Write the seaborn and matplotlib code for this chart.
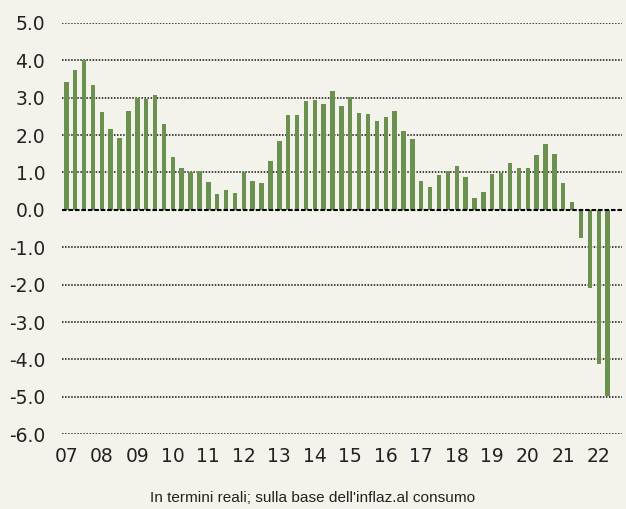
import matplotlib
matplotlib.use('Agg')
import matplotlib.pyplot as plt
import seaborn as sns
import pandas as pd

sns.set_style('white')
plt.rcParams['font.family'] = ['DejaVu Sans']

# ------------------------------------------------------------
# dati trimestrali 2007T1 - 2022T2
# ------------------------------------------------------------
years = ['07', '08', '09', '10', '11', '12', '13', '14',
         '15', '16', '17', '18', '19', '20', '21', '22']
values = [3.41, 3.75, 4.00, 3.35, 2.62, 2.17, 1.91, 2.65,
          2.98, 2.96, 3.07, 2.29, 1.41, 1.13, 1.02, 1.03,
          0.75, 0.43, 0.53, 0.44, 1.01, 0.78, 0.73, 1.30,
          1.83, 2.54, 2.55, 2.90, 2.94, 2.83, 3.17, 2.77,
          3.02, 2.60, 2.56, 2.38, 2.48, 2.64, 2.11, 1.90,
          0.77, 0.62, 0.93, 1.03, 1.17, 0.89, 0.33, 0.47,
          0.95, 0.98, 1.25, 1.13, 1.11, 1.46, 1.76, 1.49,
          0.73, 0.21, -0.76, -2.10, -4.13, -4.99]
yticks = [5, 4, 3, 2, 1, 0, -1, -2, -3, -4, -5, -6]
caption = "In termini reali; sulla base dell'inflaz.al consumo"

quarters = [f'{y}Q{q}' for y in years for q in range(1, 5)][:len(values)]
df = pd.DataFrame({'quarter': quarters, 'value': values})

bg = '#f4f3eb'
fig = plt.figure(figsize=(6.26, 5.09), dpi=100, facecolor=bg)
ax = fig.add_axes([0.099, 0.147, 0.895, 0.808])
ax.set_facecolor(bg)

# griglia puntinata
for v in yticks:
    if v == 0:
        continue
    ax.axhline(v, color='#111111', linestyle=(0, (1, 1)), linewidth=1.1,
               zorder=0)

sns.barplot(data=df, x='quarter', y='value', color='#6a9150', width=0.5,
            saturation=1, linewidth=0, edgecolor='none', ax=ax, zorder=2)
ax.axhline(0, color='black', linestyle=(0, (2.2, 0.9)), linewidth=1.5, zorder=3)

ax.set_ylim(-6, 5)
ax.set_xlim(-0.49, 62.65)
ax.set_yticks(yticks)
ax.set_yticklabels([f'{v:.1f}' for v in yticks], fontsize=13.5)
ax.set_xticks(range(0, len(years) * 4, 4))
ax.set_xticklabels(years, fontsize=13.5)
ax.tick_params(axis='both', length=0, colors='#222222')
ax.tick_params(axis='x', pad=9)
ax.tick_params(axis='y', pad=12)
ax.set_xlabel('')
ax.set_ylabel('')
for s in ax.spines.values():
    s.set_visible(False)

fig.text(0.5, 0.008, caption, ha='center', va='bottom', fontsize=11.1,
         color='#222222', family=['Liberation Sans', 'DejaVu Sans'])

plt.savefig('out.png', dpi=100, facecolor=bg)
plt.close()
